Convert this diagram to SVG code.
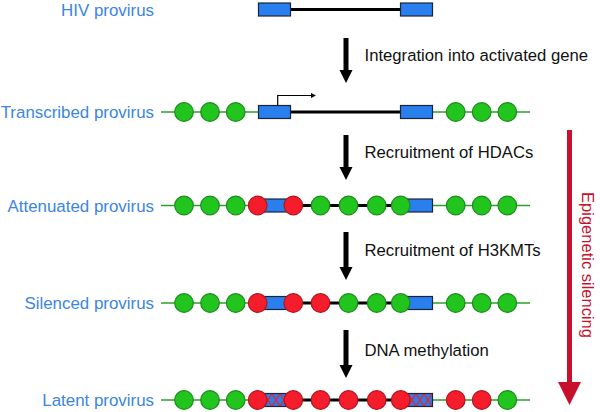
<svg xmlns="http://www.w3.org/2000/svg" width="600" height="412" viewBox="0 0 600 412">
<style>
.lbl{font-family:"Liberation Sans",Arial,sans-serif;font-size:16.9px;fill:#3b85e3;text-anchor:end}
.step{font-family:"Liberation Sans",Arial,sans-serif;font-size:16.7px;fill:#111}
.epi{font-family:"Liberation Sans",Arial,sans-serif;font-size:16.5px;fill:#c8102e;text-anchor:middle}
.host{stroke:#2e9e2e;stroke-width:1.6;fill:none}
.dna{stroke:#000;stroke-width:3;fill:none}
.box{fill:#2a7fef;stroke:#1a2636;stroke-width:1.2}
.hbox{fill:url(#meth);stroke:#1a2636;stroke-width:1.2}
.g{fill:#22c41e;stroke:#1c8a1c;stroke-width:1.2}
.r{fill:#f51d2b;stroke:#b0141f;stroke-width:1.2}
.arr{stroke:#000;stroke-width:5;fill:none;marker-end:url(#head)}
</style>
<defs>
<marker id="head" markerUnits="userSpaceOnUse" markerWidth="14" markerHeight="14" refX="0" refY="6.5" orient="auto">
<path d="M0,0 L13,6.5 L0,13 z" fill="#000"/>
</marker>
<marker id="redhead" markerUnits="userSpaceOnUse" markerWidth="24" markerHeight="24" refX="0" refY="11.5" orient="auto">
<path d="M0,0 L23,11.5 L0,23 z" fill="#c8102e"/>
</marker>
<marker id="tss" markerUnits="userSpaceOnUse" markerWidth="7" markerHeight="7" refX="0" refY="2.5" orient="auto">
<path d="M0,0 L5,2.5 L0,5 z" fill="#000"/>
</marker>
<pattern id="meth" patternUnits="userSpaceOnUse" x="0" y="393.5" width="8" height="13">
<rect width="8" height="13" fill="#2a7fef"/>
<path d="M0,0 L8,13 M8,0 L0,13" stroke="#e8202e" stroke-width="1.3"/>
</pattern>
</defs>

<g id="hiv-provirus">
<text class="lbl" x="154" y="15.5">HIV provirus</text>
<line class="dna" x1="291" y1="9.5" x2="400" y2="9.5"/>
<rect class="box" x="258.5" y="3" width="32" height="13"/>
<rect class="box" x="400.5" y="3" width="32" height="13"/>
</g>

<g id="transcribed-provirus">
<text class="lbl" x="154" y="118">Transcribed provirus</text>
<line class="host" x1="161" y1="112" x2="530" y2="112"/>
<line class="dna" x1="291" y1="112" x2="400" y2="112"/>
<rect class="box" x="258.5" y="105.5" width="32" height="13"/>
<rect class="box" x="400.5" y="105.5" width="32" height="13"/>
<path d="M277.7,105.5 V95.5 H311" stroke="#000" stroke-width="1.2" fill="none" marker-end="url(#tss)"/>
<circle class="g" cx="184" cy="112" r="9.3"/>
<circle class="g" cx="210" cy="112" r="9.3"/>
<circle class="g" cx="235.7" cy="112" r="9.3"/>
<circle class="g" cx="455.7" cy="112" r="9.3"/>
<circle class="g" cx="481.7" cy="112" r="9.3"/>
<circle class="g" cx="507.3" cy="112" r="9.3"/>
</g>

<g id="attenuated-provirus">
<text class="lbl" x="154" y="211.5">Attenuated provirus</text>
<line class="host" x1="161" y1="205.5" x2="530" y2="205.5"/>
<line class="dna" x1="291" y1="205.5" x2="400" y2="205.5"/>
<rect class="box" x="258.5" y="199" width="32" height="13"/>
<rect class="box" x="400.5" y="199" width="32" height="13"/>
<circle class="g" cx="184" cy="205.5" r="9.3"/>
<circle class="g" cx="210" cy="205.5" r="9.3"/>
<circle class="g" cx="235.7" cy="205.5" r="9.3"/>
<circle class="r" cx="257.7" cy="205.5" r="9.3"/>
<circle class="r" cx="293.3" cy="205.5" r="9.3"/>
<circle class="g" cx="320.5" cy="205.5" r="9.3"/>
<circle class="g" cx="348.5" cy="205.5" r="9.3"/>
<circle class="g" cx="376.7" cy="205.5" r="9.3"/>
<circle class="g" cx="400.7" cy="205.5" r="9.3"/>
<circle class="g" cx="455.7" cy="205.5" r="9.3"/>
<circle class="g" cx="481.7" cy="205.5" r="9.3"/>
<circle class="g" cx="507.3" cy="205.5" r="9.3"/>
</g>

<g id="silenced-provirus">
<text class="lbl" x="154" y="309">Silenced provirus</text>
<line class="host" x1="161" y1="303" x2="530" y2="303"/>
<line class="dna" x1="291" y1="303" x2="400" y2="303"/>
<rect class="box" x="258.5" y="296.5" width="32" height="13"/>
<rect class="box" x="400.5" y="296.5" width="32" height="13"/>
<circle class="g" cx="184" cy="303" r="9.3"/>
<circle class="g" cx="210" cy="303" r="9.3"/>
<circle class="g" cx="235.7" cy="303" r="9.3"/>
<circle class="r" cx="257.7" cy="303" r="9.3"/>
<circle class="r" cx="293.3" cy="303" r="9.3"/>
<circle class="r" cx="320.5" cy="303" r="9.3"/>
<circle class="g" cx="348.5" cy="303" r="9.3"/>
<circle class="g" cx="376.7" cy="303" r="9.3"/>
<circle class="g" cx="400.7" cy="303" r="9.3"/>
<circle class="g" cx="455.7" cy="303" r="9.3"/>
<circle class="g" cx="481.7" cy="303" r="9.3"/>
<circle class="g" cx="507.3" cy="303" r="9.3"/>
</g>

<g id="latent-provirus">
<text class="lbl" x="154" y="406">Latent provirus</text>
<line class="host" x1="161" y1="400" x2="530" y2="400"/>
<line class="dna" x1="291" y1="400" x2="400" y2="400"/>
<rect class="hbox" x="258.5" y="393.5" width="32" height="13"/>
<rect class="hbox" x="400.5" y="393.5" width="32" height="13"/>
<circle class="g" cx="184" cy="400" r="9.3"/>
<circle class="g" cx="210" cy="400" r="9.3"/>
<circle class="g" cx="235.7" cy="400" r="9.3"/>
<circle class="r" cx="257.7" cy="400" r="9.3"/>
<circle class="r" cx="293.3" cy="400" r="9.3"/>
<circle class="r" cx="320.5" cy="400" r="9.3"/>
<circle class="r" cx="348.5" cy="400" r="9.3"/>
<circle class="r" cx="376.7" cy="400" r="9.3"/>
<circle class="r" cx="400.7" cy="400" r="9.3"/>
<circle class="r" cx="455.7" cy="400" r="9.3"/>
<circle class="r" cx="481.7" cy="400" r="9.3"/>
<circle class="g" cx="507.3" cy="400" r="9.3"/>
</g>

<g id="connectors">
<line class="arr" x1="346" y1="38" x2="346" y2="70"/>
<text class="step" x="364.5" y="60.5">Integration into activated gene</text>
<line class="arr" x1="346" y1="135" x2="346" y2="167"/>
<text class="step" x="364.5" y="158.3">Recruitment of HDACs</text>
<line class="arr" x1="346" y1="232" x2="346" y2="267"/>
<text class="step" x="364.5" y="256">Recruitment of H3KMTs</text>
<line class="arr" x1="346" y1="330" x2="346" y2="365"/>
<text class="step" x="364.5" y="356">DNA methylation</text>
</g>

<g id="epigenetic-silencing">
<line x1="569.5" y1="130" x2="569.5" y2="382" stroke="#c8102e" stroke-width="5" marker-end="url(#redhead)"/>
<text class="epi" transform="translate(582,265) rotate(90)">Epigenetic silencing</text>
</g>
</svg>
